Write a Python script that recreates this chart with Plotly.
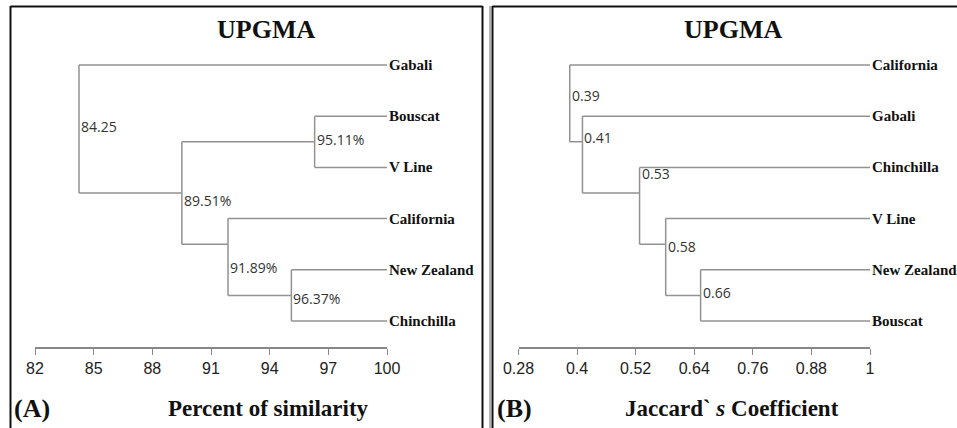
import plotly.graph_objects as go

W, H = 957, 428

# ---------------- Data ----------------
# Panel A: UPGMA, percent of similarity
leaves_A = ["Gabali", "Bouscat", "V Line", "California", "New Zealand", "Chinchilla"]
node_height_A = [84.25, 89.51, 96.3, 91.87, 95.11]          # drawn node positions on the axis
node_label_A = ["84.25", "89.51%", "95.11%", "91.89%", "96.37%"]
# children: ("L", leaf index) or ("N", node index)
node_children_A = [[("L", 0), ("N", 1)], [("N", 2), ("N", 3)], [("L", 1), ("L", 2)],
                   [("L", 3), ("N", 4)], [("L", 4), ("L", 5)]]
node_join_A = [None, 2.5, 1.5, 3.5, 4.5]                    # row where node meets its parent
node_label_row_A = [1.21, 2.64, 1.46, 3.95, 4.57]
ticks_A = [82, 85, 88, 91, 94, 97, 100]

# Panel B: UPGMA, Jaccard's coefficient
leaves_B = ["California", "Gabali", "Chinchilla", "V Line", "New Zealand", "Bouscat"]
node_height_B = [0.385, 0.411, 0.528, 0.5815, 0.653]
node_label_B = ["0.39", "0.41", "0.53", "0.58", "0.66"]
node_children_B = [[("L", 0), ("N", 1)], [("L", 1), ("N", 2)], [("L", 2), ("N", 3)],
                   [("L", 3), ("N", 4)], [("L", 4), ("L", 5)]]
node_join_B = [None, 1.5, 2.5, 3.5, 4.5]
node_label_row_B = [0.59, 1.41, 2.11, 3.54, 4.45]
ticks_B = [0.28, 0.4, 0.52, 0.64, 0.76, 0.88, 1]
ticktext_B = ["0.28", "0.4", "0.52", "0.64", "0.76", "0.88", "1"]

# ---------------- Styles ----------------
LINE_COL = "#929292"
SERIF = "Liberation Serif, Times New Roman, serif"
NARROW = "Liberation Sans Narrow, Arial Narrow, Liberation Sans, sans-serif"
LABEL_FONT = "Open Sans, Noto Sans, sans-serif"


def dendro_xy(heights, children, joins, leaf_end):
    xs, ys = [], []
    for k, h in enumerate(heights):
        cy = []
        for kind, idx in children[k]:
            y = idx if kind == "L" else joins[idx]
            cx = leaf_end if kind == "L" else heights[idx]
            cy.append(y)
            xs += [h, cx, None]
            ys += [y, y, None]
        xs += [h, h, None]
        ys += [min(cy), max(cy), None]
    return xs, ys


fig = go.Figure()

xa, ya = dendro_xy(node_height_A, node_children_A, node_join_A, ticks_A[-1])
fig.add_trace(go.Scatter(x=xa, y=ya, mode="lines", xaxis="x", yaxis="y",
                         line=dict(color=LINE_COL, width=1.5), hoverinfo="skip",
                         showlegend=False))
xb, yb = dendro_xy(node_height_B, node_children_B, node_join_B, ticks_B[-1])
fig.add_trace(go.Scatter(x=xb, y=yb, mode="lines", xaxis="x2", yaxis="y2",
                         line=dict(color=LINE_COL, width=1.5), hoverinfo="skip",
                         showlegend=False))

ann = []
for leaves, xref, yref, xend in [(leaves_A, "x", "y", ticks_A[-1]),
                                 (leaves_B, "x2", "y2", ticks_B[-1])]:
    for i, name in enumerate(leaves):
        ann.append(dict(x=xend, y=i, xref=xref, yref=yref, text="<b>%s</b>" % name,
                        xanchor="left", yanchor="middle", xshift=0, showarrow=False,
                        font=dict(family=SERIF, size=15, color="#111")))
for heights, labels, rows, xref, yref in [
        (node_height_A, node_label_A, node_label_row_A, "x", "y"),
        (node_height_B, node_label_B, node_label_row_B, "x2", "y2")]:
    for h, t, r in zip(heights, labels, rows):
        ann.append(dict(x=h, y=r, xref=xref, yref=yref, text=t, xanchor="left",
                        yanchor="middle", xshift=0, showarrow=False,
                        font=dict(family=LABEL_FONT, size=14, color="#333")))


def px(x):
    return x / W


def py(y):
    return 1 - y / H


for cx, txt in [(266, "UPGMA"), (733, "UPGMA")]:
    ann.append(dict(x=px(cx), y=py(30), xref="paper", yref="paper", text="<b>%s</b>" % txt,
                    showarrow=False, xanchor="center", yanchor="middle",
                    font=dict(family=SERIF, size=26, color="#111")))
for lx, txt in [(12, "(A)"), (495, "(B)")]:
    ann.append(dict(x=px(lx), y=py(408), xref="paper", yref="paper", text="<b>%s</b>" % txt,
                    showarrow=False, xanchor="left", yanchor="middle",
                    font=dict(family=SERIF, size=26, color="#111")))
for cx, txt in [(268, "Percent of similarity"), (732, "Jaccard` <i>s</i> Coefficient")]:
    ann.append(dict(x=px(cx), y=py(408), xref="paper", yref="paper", text="<b>%s</b>" % txt,
                    showarrow=False, xanchor="center", yanchor="middle",
                    font=dict(family=SERIF, size=23, color="#111")))

shapes = [
    dict(type="line", xref="paper", yref="paper", x0=px(10.5), x1=px(10.5), y0=py(6), y1=py(430),
         line=dict(color="#111", width=2)),
    dict(type="line", xref="paper", yref="paper", x0=px(10.5), x1=px(482.5), y0=py(6.5), y1=py(6.5),
         line=dict(color="#111", width=2)),
    dict(type="line", xref="paper", yref="paper", x0=px(482.5), x1=px(482.5), y0=py(6), y1=py(430),
         line=dict(color="#111", width=2)),
    dict(type="line", xref="paper", yref="paper", x0=px(490), x1=px(490), y0=py(6), y1=py(430),
         line=dict(color="#999", width=1.5)),
    dict(type="line", xref="paper", yref="paper", x0=px(492.5), x1=px(492.5), y0=py(6), y1=py(430),
         line=dict(color="#111", width=2)),
    dict(type="line", xref="paper", yref="paper", x0=px(492.5), x1=px(960), y0=py(6.5), y1=py(6.5),
         line=dict(color="#111", width=2)),
]

axis_common = dict(showline=True, linecolor="#888", linewidth=1.5, ticks="outside", ticklen=6,
                   tickcolor="#888", tickwidth=1.2, showgrid=False, zeroline=False,
                   automargin=False,
                   tickfont=dict(family=NARROW, size=16, color="#222"), fixedrange=True)
y_rng = [(347 - 65) / 51.2, (40 - 65) / 51.2]
y_dom = [(H - 347) / H, (H - 40) / H]

fig.update_layout(
    width=W, height=H, autosize=False,
    margin=dict(l=0, r=0, t=0, b=0, pad=0, autoexpand=False),
    paper_bgcolor="white", plot_bgcolor="white",
    xaxis=dict(domain=[px(35), px(387)], range=[ticks_A[0], ticks_A[-1]], tickvals=ticks_A,
               anchor="y", **axis_common),
    yaxis=dict(domain=y_dom, range=y_rng, visible=False, anchor="x", fixedrange=True),
    xaxis2=dict(domain=[px(518.5), px(870)], range=[ticks_B[0], ticks_B[-1]], tickvals=ticks_B,
                ticktext=ticktext_B, anchor="y2", **axis_common),
    yaxis2=dict(domain=y_dom, range=y_rng, visible=False, anchor="x2", fixedrange=True),
    annotations=ann, shapes=shapes, showlegend=False,
)

post = ("document.documentElement.style.margin='0';document.body.style.margin='0';"
        "document.body.style.padding='0';document.documentElement.style.overflow='hidden';"
        "document.body.style.overflow='hidden';")
fig.write_html("out.html", post_script=post, config={"responsive": False, "displayModeBar": False})
